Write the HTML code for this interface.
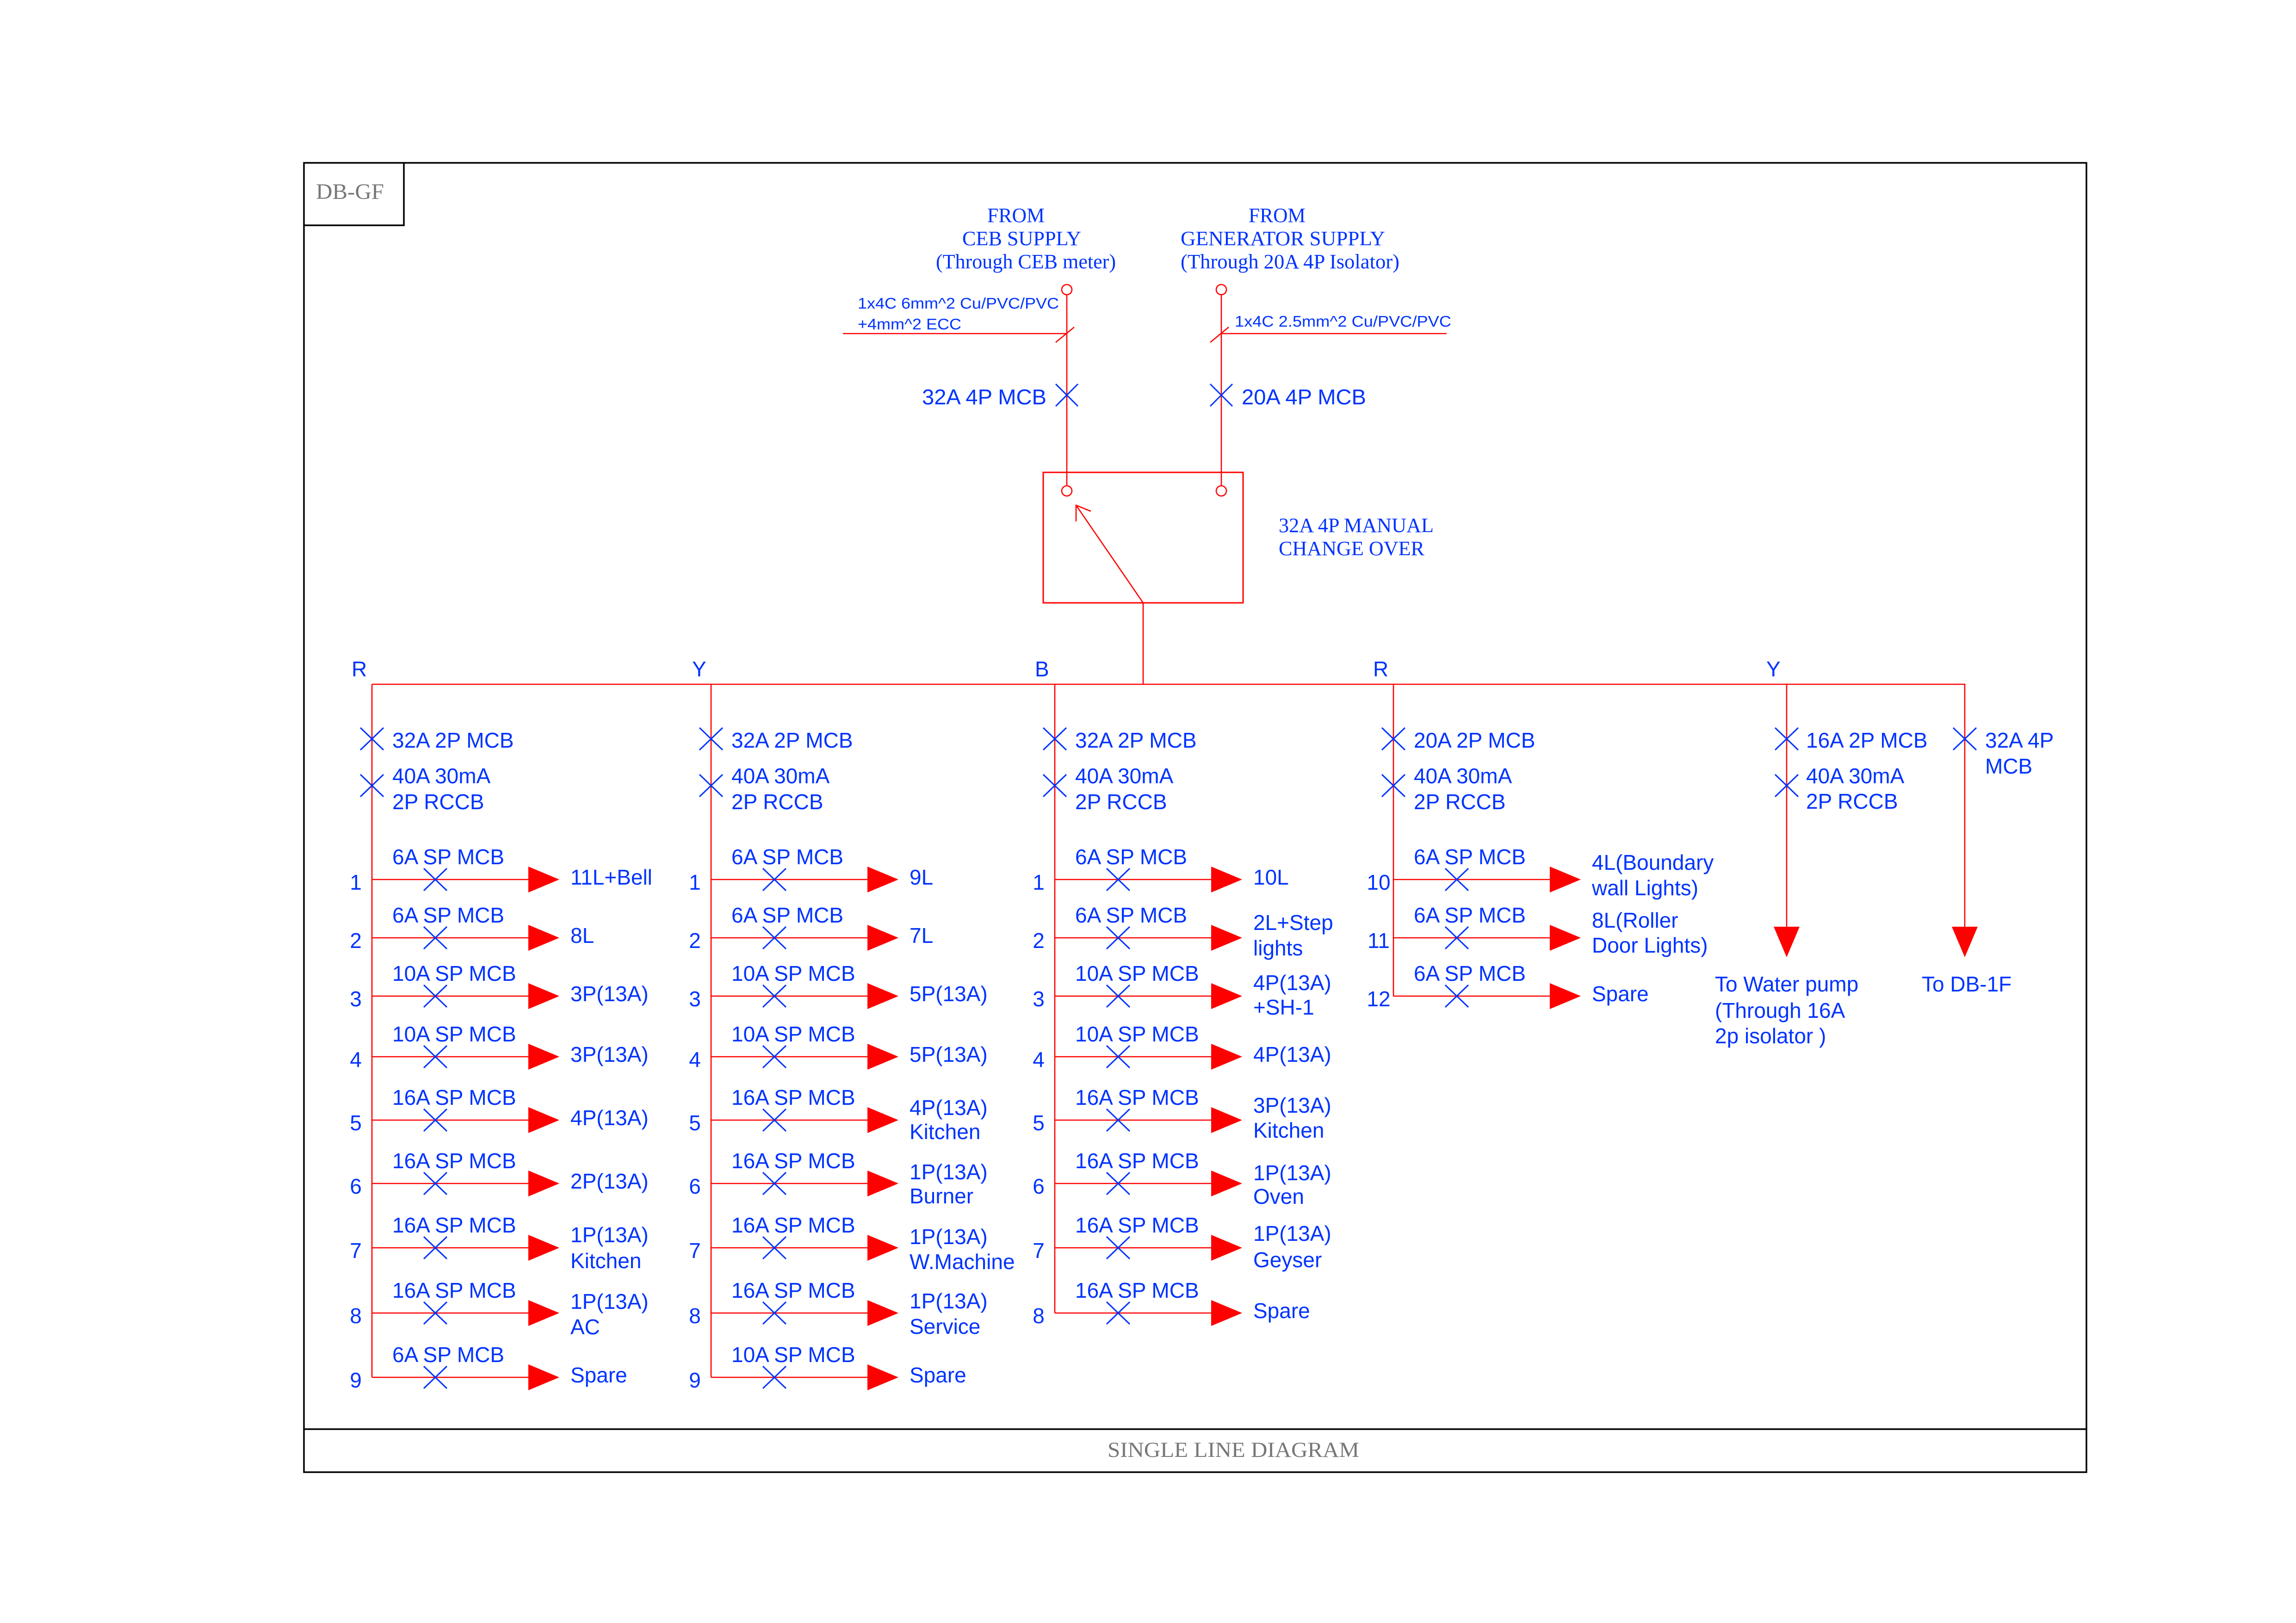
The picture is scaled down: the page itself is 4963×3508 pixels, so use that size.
<!DOCTYPE html>
<html>
<head>
<meta charset="utf-8">
<style>
html,body{margin:0;padding:0;background:#fff;}
svg{display:block;}
.b{fill:#0033ff;font-family:"Liberation Sans",Arial,sans-serif;font-size:46px;}
.c{fill:#0033ff;font-family:"Liberation Sans",Arial,sans-serif;font-size:33px;}
.s{fill:#0033ff;font-family:"Liberation Serif","Times New Roman",serif;font-size:44px;}
.g{fill:#777;font-family:"Liberation Serif","Times New Roman",serif;}
.n{text-anchor:middle;}
</style>
</head>
<body>
<svg width="4963" height="3508" viewBox="0 0 4963 3508" xmlns="http://www.w3.org/2000/svg">
<rect x="0" y="0" width="4963" height="3508" fill="#fff"/>
<!-- frame -->
<g fill="none" stroke="#000" stroke-width="3.5">
<rect x="657" y="352" width="3853" height="2830"/>
<path d="M657 487H873V352M657 3089H4510"/>
</g>
<text class="g" x="683" y="430" font-size="48" textLength="147" lengthAdjust="spacingAndGlyphs">DB-GF</text>
<text class="g" x="2394" y="3149" font-size="47" textLength="544" lengthAdjust="spacingAndGlyphs">SINGLE LINE DIAGRAM</text>

<!-- supply texts -->
<text class="s" x="2134" y="480" textLength="124" lengthAdjust="spacingAndGlyphs">FROM</text>
<text class="s" x="2080" y="530" textLength="257" lengthAdjust="spacingAndGlyphs">CEB SUPPLY</text>
<text class="s" x="2023" y="580" textLength="389" lengthAdjust="spacingAndGlyphs">(Through CEB meter)</text>
<text class="s" x="2699" y="480" textLength="123" lengthAdjust="spacingAndGlyphs">FROM</text>
<text class="s" x="2552" y="530" textLength="442" lengthAdjust="spacingAndGlyphs">GENERATOR SUPPLY</text>
<text class="s" x="2552" y="580" textLength="473" lengthAdjust="spacingAndGlyphs">(Through 20A 4P Isolator)</text>
<text class="s" x="2764" y="1150" textLength="335" lengthAdjust="spacingAndGlyphs">32A 4P MANUAL</text>
<text class="s" x="2764" y="1200" textLength="315" lengthAdjust="spacingAndGlyphs">CHANGE OVER</text>

<text class="c" x="1854" y="667" textLength="435" lengthAdjust="spacingAndGlyphs">1x4C 6mm^2 Cu/PVC/PVC</text>
<text class="c" x="1854" y="712" textLength="224" lengthAdjust="spacingAndGlyphs">+4mm^2 ECC</text>
<text class="c" x="2669" y="706" textLength="468" lengthAdjust="spacingAndGlyphs">1x4C 2.5mm^2 Cu/PVC/PVC</text>
<text class="b" x="1993" y="874" textLength="269" lengthAdjust="spacingAndGlyphs">32A 4P MCB</text>
<text class="b" x="2684" y="874" textLength="269" lengthAdjust="spacingAndGlyphs">20A 4P MCB</text>

<!-- red lines -->
<g fill="none" stroke="#ff0000" stroke-width="2.6">
<path d="M1822 721H2306M2640 721H3127M2282 740L2322 707M2616 740L2656 707"/>
<path d="M2306 637V1050M2640 637V1050"/>
<circle cx="2306" cy="626" r="11"/>
<circle cx="2640" cy="626" r="11"/>
<circle cx="2306" cy="1061" r="11"/>
<circle cx="2640" cy="1061" r="11"/>
<rect x="2255" y="1021" width="432" height="282" stroke-width="3"/>
<path d="M2471 1303L2326 1092M2326 1127L2326 1092L2358 1105"/>
<path d="M2471 1303V1479"/>
<path d="M804 1479H4247V2003M804 1479V2977M1537 1479V2977M2280 1479V2838M3012 1479V2153M3862 1479V2003"/>
<path d="M804 1901H1142M804 2027H1142M804 2153H1142M804 2284H1142M804 2421H1142M804 2558H1142M804 2697H1142M804 2838H1142M804 2977H1142"/>
<path d="M1537 1901H1875M1537 2027H1875M1537 2153H1875M1537 2284H1875M1537 2421H1875M1537 2558H1875M1537 2697H1875M1537 2838H1875M1537 2977H1875"/>
<path d="M2280 1901H2618M2280 2027H2618M2280 2153H2618M2280 2284H2618M2280 2421H2618M2280 2558H2618M2280 2697H2618M2280 2838H2618"/>
<path d="M3012 1901H3350M3012 2027H3350M3012 2153H3350"/>
</g>

<!-- arrow heads -->
<g fill="#ff0000">
<path d="M1142 1873l67 28-67 28zM1142 1999l67 28-67 28zM1142 2125l67 28-67 28zM1142 2256l67 28-67 28zM1142 2393l67 28-67 28zM1142 2530l67 28-67 28zM1142 2669l67 28-67 28zM1142 2810l67 28-67 28zM1142 2949l67 28-67 28z"/>
<path d="M1875 1873l67 28-67 28zM1875 1999l67 28-67 28zM1875 2125l67 28-67 28zM1875 2256l67 28-67 28zM1875 2393l67 28-67 28zM1875 2530l67 28-67 28zM1875 2669l67 28-67 28zM1875 2810l67 28-67 28zM1875 2949l67 28-67 28z"/>
<path d="M2618 1873l67 28-67 28zM2618 1999l67 28-67 28zM2618 2125l67 28-67 28zM2618 2256l67 28-67 28zM2618 2393l67 28-67 28zM2618 2530l67 28-67 28zM2618 2669l67 28-67 28zM2618 2810l67 28-67 28z"/>
<path d="M3350 1873l67 28-67 28zM3350 1999l67 28-67 28zM3350 2125l67 28-67 28z"/>
<path d="M3834 2003h56l-28 66zM4219 2003h56l-28 66z"/>
</g>

<!-- blue X symbols -->
<g fill="none" stroke="#0033ff" stroke-width="3">
<path d="M2282 830l48 48m0-48l-48 48M2616 830l48 48m0-48l-48 48"/>
<path d="M779 1573l50 48m0-48l-50 48M779 1674l50 48m0-48l-50 48M1512 1573l50 48m0-48l-50 48M1512 1674l50 48m0-48l-50 48M2255 1573l50 48m0-48l-50 48M2255 1674l50 48m0-48l-50 48M2987 1573l50 48m0-48l-50 48M2987 1674l50 48m0-48l-50 48M3837 1573l50 48m0-48l-50 48M3837 1674l50 48m0-48l-50 48M4222 1573l50 48m0-48l-50 48"/>
<path d="M916 1877l50 48m0-48l-50 48M916 2003l50 48m0-48l-50 48M916 2129l50 48m0-48l-50 48M916 2260l50 48m0-48l-50 48M916 2397l50 48m0-48l-50 48M916 2534l50 48m0-48l-50 48M916 2673l50 48m0-48l-50 48M916 2814l50 48m0-48l-50 48M916 2953l50 48m0-48l-50 48"/>
<path d="M1649 1877l50 48m0-48l-50 48M1649 2003l50 48m0-48l-50 48M1649 2129l50 48m0-48l-50 48M1649 2260l50 48m0-48l-50 48M1649 2397l50 48m0-48l-50 48M1649 2534l50 48m0-48l-50 48M1649 2673l50 48m0-48l-50 48M1649 2814l50 48m0-48l-50 48M1649 2953l50 48m0-48l-50 48"/>
<path d="M2392 1877l50 48m0-48l-50 48M2392 2003l50 48m0-48l-50 48M2392 2129l50 48m0-48l-50 48M2392 2260l50 48m0-48l-50 48M2392 2397l50 48m0-48l-50 48M2392 2534l50 48m0-48l-50 48M2392 2673l50 48m0-48l-50 48M2392 2814l50 48m0-48l-50 48"/>
<path d="M3124 1877l50 48m0-48l-50 48M3124 2003l50 48m0-48l-50 48M3124 2129l50 48m0-48l-50 48"/>
</g>

<!-- phase labels -->
<text class="b" x="760" y="1462">R</text>
<text class="b" x="1496" y="1462">Y</text>
<text class="b" x="2237" y="1462">B</text>
<text class="b" x="2968" y="1462">R</text>
<text class="b" x="3818" y="1462">Y</text>

<!-- top protective device labels -->
<text class="b" x="848" y="1616">32A 2P MCB</text>
<text class="b" x="848" y="1693">40A 30mA</text>
<text class="b" x="848" y="1749">2P RCCB</text>
<text class="b" x="1581" y="1616">32A 2P MCB</text>
<text class="b" x="1581" y="1693">40A 30mA</text>
<text class="b" x="1581" y="1749">2P RCCB</text>
<text class="b" x="2324" y="1616">32A 2P MCB</text>
<text class="b" x="2324" y="1693">40A 30mA</text>
<text class="b" x="2324" y="1749">2P RCCB</text>
<text class="b" x="3056" y="1616">20A 2P MCB</text>
<text class="b" x="3056" y="1693">40A 30mA</text>
<text class="b" x="3056" y="1749">2P RCCB</text>
<text class="b" x="3904" y="1616">16A 2P MCB</text>
<text class="b" x="3904" y="1693">40A 30mA</text>
<text class="b" x="3904" y="1748">2P RCCB</text>
<text class="b" x="4291" y="1616">32A 4P</text>
<text class="b" x="4291" y="1672">MCB</text>

<text class="b" x="3707" y="2143">To Water pump</text>
<text class="b" x="3707" y="2200">(Through 16A</text>
<text class="b" x="3707" y="2255">2p isolator )</text>
<text class="b" x="4154" y="2143">To DB-1F</text>

<!-- Column 1 -->
<g class="b">
<text x="848" y="1868">6A SP MCB</text>
<text x="848" y="1994">6A SP MCB</text>
<text x="848" y="2120">10A SP MCB</text>
<text x="848" y="2251">10A SP MCB</text>
<text x="848" y="2388">16A SP MCB</text>
<text x="848" y="2525">16A SP MCB</text>
<text x="848" y="2664">16A SP MCB</text>
<text x="848" y="2805">16A SP MCB</text>
<text x="848" y="2944">6A SP MCB</text>
<text class="n" x="769" y="1923">1</text>
<text class="n" x="769" y="2049">2</text>
<text class="n" x="769" y="2175">3</text>
<text class="n" x="769" y="2306">4</text>
<text class="n" x="769" y="2443">5</text>
<text class="n" x="769" y="2580">6</text>
<text class="n" x="769" y="2719">7</text>
<text class="n" x="769" y="2860">8</text>
<text class="n" x="769" y="2999">9</text>
<text x="1233" y="1912">11L+Bell</text>
<text x="1233" y="2038">8L</text>
<text x="1233" y="2164">3P(13A)</text>
<text x="1233" y="2295">3P(13A)</text>
<text x="1233" y="2432">4P(13A)</text>
<text x="1233" y="2569">2P(13A)</text>
<text x="1233" y="2685">1P(13A)</text>
<text x="1233" y="2741">Kitchen</text>
<text x="1233" y="2829">1P(13A)</text>
<text x="1233" y="2884">AC</text>
<text x="1233" y="2988">Spare</text>
</g>

<!-- Column 2 -->
<g class="b">
<text x="1581" y="1868">6A SP MCB</text>
<text x="1581" y="1994">6A SP MCB</text>
<text x="1581" y="2120">10A SP MCB</text>
<text x="1581" y="2251">10A SP MCB</text>
<text x="1581" y="2388">16A SP MCB</text>
<text x="1581" y="2525">16A SP MCB</text>
<text x="1581" y="2664">16A SP MCB</text>
<text x="1581" y="2805">16A SP MCB</text>
<text x="1581" y="2944">10A SP MCB</text>
<text class="n" x="1502" y="1923">1</text>
<text class="n" x="1502" y="2049">2</text>
<text class="n" x="1502" y="2175">3</text>
<text class="n" x="1502" y="2306">4</text>
<text class="n" x="1502" y="2443">5</text>
<text class="n" x="1502" y="2580">6</text>
<text class="n" x="1502" y="2719">7</text>
<text class="n" x="1502" y="2860">8</text>
<text class="n" x="1502" y="2999">9</text>
<text x="1966" y="1912">9L</text>
<text x="1966" y="2038">7L</text>
<text x="1966" y="2164">5P(13A)</text>
<text x="1966" y="2295">5P(13A)</text>
<text x="1966" y="2410">4P(13A)</text>
<text x="1966" y="2462">Kitchen</text>
<text x="1966" y="2549">1P(13A)</text>
<text x="1966" y="2601">Burner</text>
<text x="1966" y="2689">1P(13A)</text>
<text x="1966" y="2743">W.Machine</text>
<text x="1966" y="2828">1P(13A)</text>
<text x="1966" y="2883">Service</text>
<text x="1966" y="2988">Spare</text>
</g>

<!-- Column 3 -->
<g class="b">
<text x="2324" y="1868">6A SP MCB</text>
<text x="2324" y="1994">6A SP MCB</text>
<text x="2324" y="2120">10A SP MCB</text>
<text x="2324" y="2251">10A SP MCB</text>
<text x="2324" y="2388">16A SP MCB</text>
<text x="2324" y="2525">16A SP MCB</text>
<text x="2324" y="2664">16A SP MCB</text>
<text x="2324" y="2805">16A SP MCB</text>
<text class="n" x="2245" y="1923">1</text>
<text class="n" x="2245" y="2049">2</text>
<text class="n" x="2245" y="2175">3</text>
<text class="n" x="2245" y="2306">4</text>
<text class="n" x="2245" y="2443">5</text>
<text class="n" x="2245" y="2580">6</text>
<text class="n" x="2245" y="2719">7</text>
<text class="n" x="2245" y="2860">8</text>
<text x="2709" y="1912">10L</text>
<text x="2709" y="2010">2L+Step</text>
<text x="2709" y="2065">lights</text>
<text x="2709" y="2140">4P(13A)</text>
<text x="2709" y="2193">+SH-1</text>
<text x="2709" y="2295">4P(13A)</text>
<text x="2709" y="2405">3P(13A)</text>
<text x="2709" y="2459">Kitchen</text>
<text x="2709" y="2551">1P(13A)</text>
<text x="2709" y="2602">Oven</text>
<text x="2709" y="2682">1P(13A)</text>
<text x="2709" y="2739">Geyser</text>
<text x="2709" y="2849">Spare</text>
</g>

<!-- Column 4 -->
<g class="b">
<text x="3056" y="1868">6A SP MCB</text>
<text x="3056" y="1994">6A SP MCB</text>
<text x="3056" y="2120">6A SP MCB</text>
<text class="n" x="2980" y="1923">10</text>
<text class="n" x="2980" y="2049">11</text>
<text class="n" x="2980" y="2175">12</text>
<text x="3441" y="1880">4L(Boundary</text>
<text x="3441" y="1935">wall Lights)</text>
<text x="3441" y="2005">8L(Roller</text>
<text x="3441" y="2059">Door Lights)</text>
<text x="3441" y="2164">Spare</text>
</g>
</svg>
</body>
</html>
